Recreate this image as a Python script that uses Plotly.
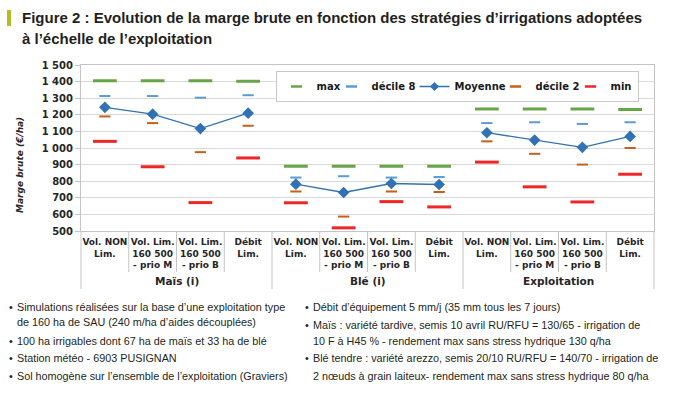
import plotly.graph_objects as go

# ---------------- data ----------------
groups = ["Maïs (i)", "Blé (i)", "Exploitation"]
strategies = ["Vol. NON<br>Lim.", "Vol. Lim.<br>160 500<br>- prio M",
              "Vol. Lim.<br>160 500<br>- prio B", "Débit<br>Lim."]

val_max = [1405, 1405, 1405, 1402, 890, 890, 890, 890, 1235, 1235, 1235, 1232]
val_d8 = [1313, 1313, 1303, 1318, 822, 830, 822, 825, 1150, 1155, 1145, 1155]
val_mean = [1245, 1204, 1117, 1210, 782, 732, 786, 780, 1092, 1048, 1004, 1070]
val_d2 = [1190, 1150, 975, 1134, 738, 587, 738, 735, 1040, 965, 900, 1000]
val_min = [1040, 887, 671, 940, 670, 519, 677, 645, 915, 766, 675, 842]

y_tick_values = [500, 600, 700, 800, 900, 1000, 1100, 1200, 1300, 1400, 1500]
y_tick_labels = ["500", "600", "700", "800", "900", "1 000", "1 100",
                 "1 200", "1 300", "1 400", "1 500"]
y_title = "Marge brute (€/ha)"

title_lines = ["Figure 2 : Evolution de la marge brute en fonction des stratégies d’irrigations adoptées",
               "à l’échelle de l’exploitation"]

notes_left = ["Simulations réalisées sur la base d’une exploitation type",
              "de 160 ha de SAU (240 m/ha d’aides découplées)",
              "100 ha irrigables dont 67 ha de maïs et 33 ha de blé",
              "Station météo - 6903 PUSIGNAN",
              "Sol homogène sur l’ensemble de l’exploitation (Graviers)"]
notes_left_bullet = [True, False, True, True, True]
notes_right = ["Débit d’équipement 5 mm/j (35 mm tous les 7 jours)",
               "Maïs : variété tardive, semis 10 avril RU/RFU = 130/65 - irrigation de",
               "10 F à H45 % - rendement max sans stress hydrique 130 q/ha",
               "Blé tendre : variété arezzo, semis 20/10 RU/RFU = 140/70 - irrigation de",
               "2 nœuds à grain laiteux- rendement max sans stress hydrique 80 q/ha"]
notes_right_bullet = [True, True, False, True, False]

# ---------------- geometry helpers (layout only) ----------------
W, H = 674, 394
ML, MR, MT, MB = 81, 20, 65, 163
PW, PH = W - ML - MR, H - MT - MB


def px_x(px):
    return (px - ML) / PW


def px_y(py):
    return (H - MB - py) / PH


n_strat = len(strategies)
n_cat = len(groups) * n_strat
xs = list(range(n_cat))
tick_text = [s for g in groups for s in strategies]

# Moyenne line broken between groups
line_x, line_y = [], []
for gi in range(len(groups)):
    if gi > 0:
        line_x.append(None)
        line_y.append(None)
    for si in range(n_strat):
        i = gi * n_strat + si
        line_x.append(xs[i])
        line_y.append(val_mean[i])

C_MAX = "#67a547"
C_D8 = "#5b9bd5"
C_MEAN = "#3172b4"
C_D2 = "#c65f1c"
C_MIN = "#ee2626"

fig = go.Figure()


def dash_trace(name, vals, color, size, lw):
    fig.add_trace(go.Scatter(
        x=xs, y=vals, mode="markers", name=name, showlegend=False,
        marker=dict(symbol="line-ew", size=size, color=color,
                    line=dict(color=color, width=lw)),
        hovertemplate=name + ": %{y}<extra></extra>"))


dash_trace("max", val_max, C_MAX, 17, 3)
dash_trace("décile 8", val_d8, C_D8, 8, 2)
fig.add_trace(go.Scatter(
    x=line_x, y=line_y, mode="lines+markers", name="Moyenne", showlegend=False,
    line=dict(color=C_MEAN, width=1.3),
    marker=dict(symbol="diamond", size=9, color=C_MEAN),
    hovertemplate="Moyenne: %{y}<extra></extra>"))
dash_trace("décile 2", val_d2, C_D2, 8, 2)
dash_trace("min", val_min, C_MIN, 17, 3)

# legend entries (small symbols like the original legend)
legend_specs = [("max", C_MAX, "markers", 10), ("décile 8", C_D8, "markers", 38),
                ("Moyenne", C_MEAN, "lines+markers", 36), ("décile 2", C_D2, "markers", 30),
                ("min", C_MIN, "markers", 22)]
for name, color, mode, lwid in legend_specs:
    if mode == "markers":
        fig.add_trace(go.Scatter(
            x=[None], y=[None], mode="markers", name=name, legendwidth=lwid,
            marker=dict(symbol="line-ew", size=8, color=color,
                        line=dict(color=color, width=2.5))))
    else:
        fig.add_trace(go.Scatter(
            x=[None], y=[None], mode="lines+markers", name=name, legendwidth=lwid,
            line=dict(color=color, width=1.3),
            marker=dict(symbol="diamond", size=7, color=color)))

BOLD = "DejaVu Sans"
ARIAL = "Liberation Sans, Arial, sans-serif"
GRID = "#d9d9d9"
LINEC = "#c4c4c4"

shapes = []
# category dividers below the axis
for b in range(n_cat + 1):
    is_group = (b % n_strat == 0)
    shapes.append(dict(type="line", xref="paper", yref="paper",
                       x0=b / n_cat, x1=b / n_cat, y0=0,
                       y1=px_y(289) if is_group else px_y(272),
                       line=dict(color=LINEC, width=1)))
# title accent bar
shapes.append(dict(type="rect", xref="paper", yref="paper",
                   x0=px_x(7), x1=px_x(11), y0=px_y(26), y1=px_y(10),
                   fillcolor="#b4bc1e", line=dict(width=0)))

annotations = []
# title
for txt, py in zip(title_lines, [17.5, 38]):
    annotations.append(dict(x=px_x(20), xref="paper", y=px_y(py), yref="paper", text=txt,
                            showarrow=False, xanchor="left", yanchor="middle",
                            font=dict(family=ARIAL, size=15, color="#231f20", weight="bold")))
# y axis title
annotations.append(dict(x=px_x(20), xref="paper", y=px_y(165), yref="paper", text=y_title,
                        textangle=-90, showarrow=False, xanchor="center", yanchor="middle",
                        font=dict(family=BOLD, size=9, color="#262626",
                                  weight="bold", style="italic")))
for gi, g in enumerate(groups):
    cx = sum(xs[gi * n_strat:(gi + 1) * n_strat]) / n_strat
    annotations.append(dict(x=cx, xref="x", y=px_y(281), yref="paper",
                            text=g, showarrow=False, xanchor="center", yanchor="middle",
                            font=dict(family=BOLD, size=10.5, color="#262626", weight="bold")))

left_y = [307, 322, 341, 358, 376]
right_y = [307, 325, 341, 358, 376]
note_font = dict(family=ARIAL, size=10.8, color="#231f20")
for txt, bul, py in zip(notes_left, notes_left_bullet, left_y):
    annotations.append(dict(x=px_x(15), xref="paper", y=px_y(py), yref="paper", text=txt,
                            showarrow=False, xanchor="left", yanchor="middle", font=note_font))
    if bul:
        annotations.append(dict(x=px_x(10.5), xref="paper", y=px_y(py), yref="paper", text="•",
                                showarrow=False, xanchor="center", yanchor="middle", font=note_font))
for txt, bul, py in zip(notes_right, notes_right_bullet, right_y):
    annotations.append(dict(x=px_x(311), xref="paper", y=px_y(py), yref="paper", text=txt,
                            showarrow=False, xanchor="left", yanchor="middle", font=note_font))
    if bul:
        annotations.append(dict(x=px_x(307), xref="paper", y=px_y(py), yref="paper", text="•",
                                showarrow=False, xanchor="center", yanchor="middle", font=note_font))

fig.update_layout(
    width=W, height=H,
    margin=dict(l=ML, r=MR, t=MT, b=MB, pad=0),
    paper_bgcolor="white", plot_bgcolor="white",
    xaxis=dict(range=[-0.5, n_cat - 0.5], tickvals=xs, ticktext=tick_text,
               showgrid=False, zeroline=False, showline=True, linecolor=LINEC,
               mirror=True, ticks="", ticklabelstandoff=2,
               tickfont=dict(family=BOLD, size=9, color="#262626", weight="bold")),
    yaxis=dict(range=[500, 1500], tickvals=y_tick_values, ticktext=y_tick_labels,
               showgrid=True, gridcolor=GRID, gridwidth=1, zeroline=False,
               showline=True, linecolor=LINEC, mirror=True,
               ticks="outside", ticklen=5, tickcolor=LINEC,
               tickfont=dict(family=BOLD, size=10, color="#262626", weight="bold")),
    legend=dict(orientation="h", x=px_x(457), xanchor="center", y=px_y(71), yanchor="top",
                bgcolor="white", bordercolor="#c8c8c8", borderwidth=1,
                font=dict(family=BOLD, size=10, color="#1a1a1a", weight="bold"),
                itemwidth=30, tracegroupgap=0),
    shapes=shapes, annotations=annotations, showlegend=True,
)

fig.write_html("out.html", config={"displayModeBar": False},
               post_script="document.body.style.margin='0px';")
